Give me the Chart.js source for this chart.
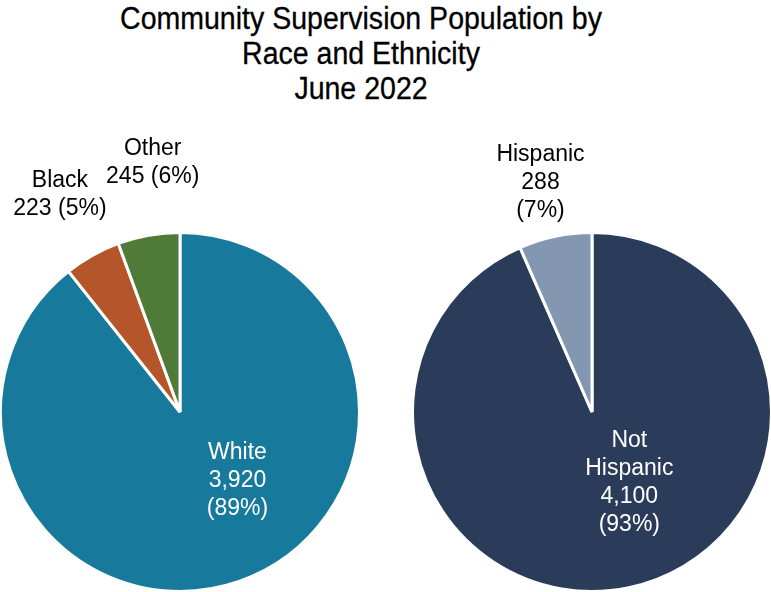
<!DOCTYPE html>
<html>
<head>
<meta charset="utf-8">
<script src="https://cdn.jsdelivr.net/npm/chart.js@4"></script>
<style>
  html, body { margin: 0; padding: 0; background: #fff; }
  #wrap { position: relative; width: 771px; height: 592px; overflow: hidden; }
  #title {
    position: absolute; left: 0; top: 0; width: 722px;
    text-align: center;
    font-family: "Liberation Sans", Arial, sans-serif;
    font-size: 31px; line-height: 35px; color: #000;
    padding-top: 1px;
  }
  #title span {
    display: block;
    transform: scaleX(0.92);
    transform-origin: 50% 50%;
    -webkit-text-stroke: 0.3px #000;
  }
  canvas { position: absolute; top: 0; }
  #chartRace { left: 0; }
  #chartEthnicity { left: 386px; }
</style>
</head>
<body>
<div id="wrap">
  <div id="title">
    <span>Community Supervision Population by</span>
    <span>Race and Ethnicity</span>
    <span>June 2022</span>
  </div>
  <canvas id="chartRace" width="386" height="592"></canvas>
  <canvas id="chartEthnicity" width="385" height="592"></canvas>
</div>
<script>
// Race breakdown
const raceLabels = ["White", "Black", "Other"];
const raceValues = [3920, 223, 245];
const raceColors = ["#17799b", "#b5562a", "#507a37"];

// Ethnicity breakdown
const ethLabels = ["Not Hispanic", "Hispanic"];
const ethValues = [4100, 288];
const ethColors = ["#2b3c5a", "#8497b0"];

const PIE_RADIUS = 179.5;
const LABEL_FONT = "23px 'Liberation Sans', Arial, sans-serif";
const LINE_H = 28;

// Label blocks: offset from pie centre in radius units, text lines, colour
const raceLabelLayout = [
  { dx: 0.32, dy: 0.38, color: "#fff", lines: (n, v, p) => [n, v, "(" + p + "%)"] },
  { dx: -0.669, dy: -1.21, color: "#000", lines: (n, v, p) => [n, v + " (" + p + "%)"] },
  { dx: -0.152, dy: -1.39, color: "#000", lines: (n, v, p) => [n, v + " (" + p + "%)"] },
];
const ethLabelLayout = [
  { dx: 0.208, dy: 0.395, color: "#fff", lines: (n, v, p) => ["Not", "Hispanic", v, "(" + p + "%)"] },
  { dx: -0.287, dy: -1.275, color: "#000", lines: (n, v, p) => [n, v, "(" + p + "%)"] },
];

const sliceLabels = {
  id: "sliceLabels",
  afterDatasetsDraw(chart, args, opts) {
    const ctx = chart.ctx;
    const ds = chart.data.datasets[0];
    const total = ds.data.reduce((a, b) => a + b, 0);
    const meta = chart.getDatasetMeta(0);
    ctx.save();
    ctx.font = LABEL_FONT;
    ctx.textAlign = "center";
    ctx.textBaseline = "middle";
    meta.data.forEach((arc, i) => {
      const lay = opts.layout[i];
      const r = arc.outerRadius;
      const v = ds.data[i];
      const pct = Math.round(v / total * 100);
      const lines = lay.lines(chart.data.labels[i], v.toLocaleString("en-US"), pct);
      const cx = arc.x + lay.dx * r;
      const cy = arc.y + lay.dy * r;
      const top = cy - (lines.length - 1) * LINE_H / 2;
      ctx.fillStyle = lay.color;
      lines.forEach((t, k) => ctx.fillText(t, cx, top + k * LINE_H));
    });
    ctx.restore();
  },
};

function makePie(canvasId, labels, values, colors, layout, padding) {
  return new Chart(document.getElementById(canvasId), {
    type: "pie",
    data: {
      labels: labels,
      datasets: [{
        data: values,
        backgroundColor: colors,
        borderColor: "#fff",
        borderWidth: 3,
      }],
    },
    options: {
      responsive: false,
      animation: false,
      radius: PIE_RADIUS,
      layout: { padding: padding },
      plugins: {
        legend: { display: false },
        tooltip: { enabled: false },
        title: { display: false },
        sliceLabels: { layout: layout },
      },
    },
    plugins: [sliceLabels],
  });
}

makePie("chartRace", raceLabels, raceValues, raceColors, raceLabelLayout,
  { left: 2, right: 28, top: 234, bottom: 2 });
makePie("chartEthnicity", ethLabels, ethValues, ethColors, ethLabelLayout,
  { left: 28, right: 1, top: 234, bottom: 2 });
</script>
</body>
</html>
